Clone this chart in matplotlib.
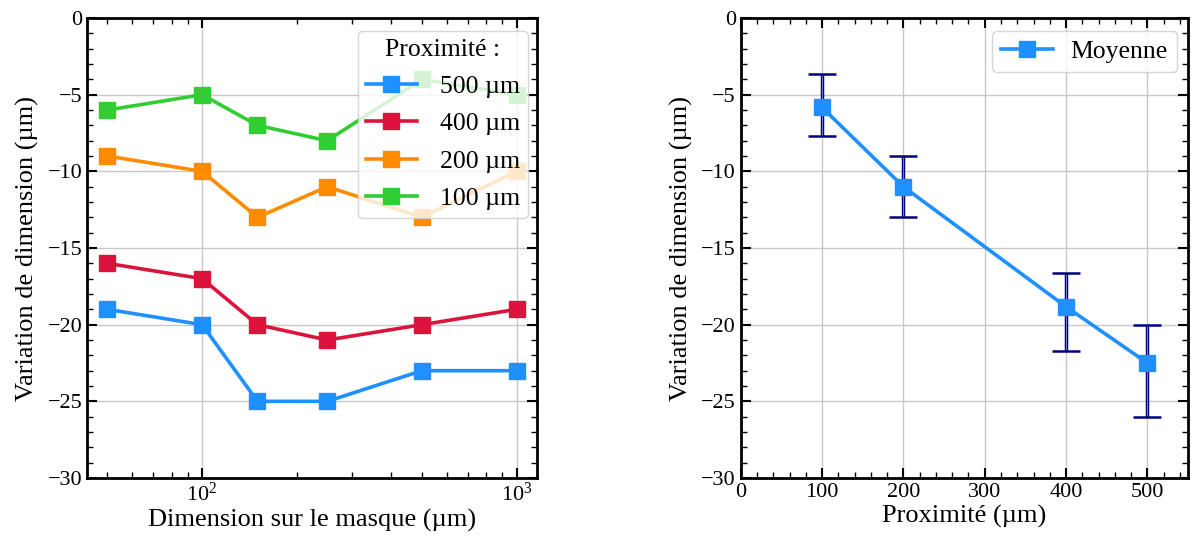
import numpy as np
import matplotlib
matplotlib.use("Agg")
import matplotlib.pyplot as plt
from matplotlib import ticker
import matplotlib.patheffects as pe

plt.rcParams['font.family'] = ['Liberation Serif', 'DejaVu Serif']
plt.rcParams['mathtext.fontset'] = 'stix'
plt.rcParams['xtick.direction'] = 'in'
plt.rcParams['ytick.direction'] = 'in'
plt.rcParams['xtick.top'] = True
plt.rcParams['ytick.right'] = True
plt.rcParams['xtick.minor.visible'] = True
plt.rcParams['ytick.minor.visible'] = True

# mask dimension (um) and dimension variation per proximity
dimensions = [50, 100, 150, 250, 500, 1000]
var_500 = [-19, -20, -25, -25, -23, -23]
var_400 = [-16, -17, -20, -21, -20, -19]
var_200 = [-9, -10, -13, -11, -13, -10]
var_100 = [-6, -5, -7, -8, -4, -5]

series_labels = ['500 µm', '400 µm', '200 µm', '100 µm']
series_colors = ['#1E90FF', '#DC143C', '#FF8C00', '#32CD32']

# mean per proximity with error range
proximity = [100, 200, 400, 500]
mean_var = [-5.83, -11.0, -18.83, -22.5]
err_low = [1.85, 2.0, 2.87, 3.5]
err_high = [2.2, 2.0, 2.18, 2.47]

fig = plt.figure(figsize=(11.92, 5.38), dpi=100)
ax1 = fig.add_axes([0.073, 0.1115, 0.3775, 0.855])
ax2 = fig.add_axes([0.6214, 0.1115, 0.3753, 0.855])

for vals, lbl, col in zip([var_500, var_400, var_200, var_100], series_labels, series_colors):
    ax1.plot(dimensions, vals, '-s', color=col, lw=2.6, ms=11, label=lbl)
ax1.set_xscale('log')
ax1.set_ylim(-30, 0)
ax1.set_xlabel('Dimension sur le masque (µm)', fontsize=19, labelpad=2)
ax1.set_ylabel('Variation de dimension (µm)', fontsize=19, labelpad=6)
leg = ax1.legend(title='Proximité :', loc='upper right', fontsize=18.5, title_fontsize=18.5,
                 handlelength=2.0, borderpad=0.3, labelspacing=0.56, handletextpad=0.9,
                 borderaxespad=0, bbox_to_anchor=(0.98, 0.972))

eb = ax2.errorbar(proximity, mean_var, yerr=[err_low, err_high], fmt='-s', color='#1E90FF',
                  lw=2.6, ms=11, ecolor='#6f7fd8', elinewidth=0.7, capsize=10, capthick=1.8,
                  zorder=3)
for c in eb[1]:
    c.set_markeredgecolor('navy')
    c.set_color('navy')
for c in eb[2]:
    c.set_path_effects([pe.Stroke(linewidth=2.5, foreground='navy'), pe.Normal()])
ax2.set_xlim(0, 550)
ax2.set_ylim(-30, 0)
ax2.xaxis.set_major_locator(ticker.FixedLocator([0, 100, 200, 300, 400, 500]))
ax2.xaxis.set_minor_locator(ticker.MultipleLocator(20))
ax2.set_xlabel('Proximité (µm)', fontsize=19, labelpad=2)
ax2.set_ylabel('Variation de dimension (µm)', fontsize=19, labelpad=6)
ax2.legend([eb[0]], ['Moyenne'], loc='upper right', fontsize=18.5, handlelength=2.0,
           borderpad=0.35, handletextpad=0.7, borderaxespad=0, bbox_to_anchor=(0.975, 0.972))

for ax in (ax1, ax2):
    ax.yaxis.set_major_locator(ticker.MultipleLocator(5))
    ax.yaxis.set_minor_locator(ticker.MultipleLocator(1))
    ax.grid(True, which='major', color='#c8c8c8', lw=1.0)
    ax.set_axisbelow(True)
    ax.tick_params(which='major', length=7, width=1.5, labelsize=16)
    ax.tick_params(which='minor', length=4, width=1.0)
    for s in ax.spines.values():
        s.set_linewidth(2.0)

fig.savefig('out.png', dpi=100)
